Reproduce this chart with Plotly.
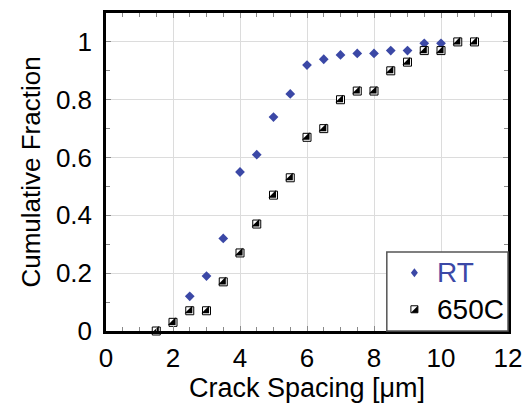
import plotly.graph_objects as go

# Data
rt_x = [2.5, 3.0, 3.5, 4.0, 4.5, 5.0, 5.5, 6.0, 6.5, 7.0, 7.5, 8.0, 8.5, 9.0, 9.5, 10.0]
rt_y = [0.12, 0.19, 0.32, 0.55, 0.61, 0.74, 0.82, 0.92, 0.94, 0.955, 0.96, 0.96, 0.97, 0.97, 0.995, 0.995]
c650_x = [1.5, 2.0, 2.5, 3.0, 3.5, 4.0, 4.5, 5.0, 5.5, 6.0, 6.5, 7.0, 7.5, 8.0, 8.5, 9.0, 9.5, 10.0, 10.5, 11.0]
c650_y = [0.0, 0.03, 0.07, 0.07, 0.17, 0.27, 0.37, 0.47, 0.53, 0.67, 0.70, 0.80, 0.83, 0.83, 0.90, 0.93, 0.97, 0.97, 1.0, 1.0]
x_ticks = [0, 2, 4, 6, 8, 10, 12]
y_ticks = [0, 0.2, 0.4, 0.6, 0.8, 1.0]
y_ticktext = ["0", "0.2", "0.4", "0.6", "0.8", "1"]
legend_names = ["RT", "650C"]

BLUE = "#3b48a6"
FONT = "Liberation Sans, Arial, sans-serif"

fig = go.Figure()
fig.add_trace(go.Scatter(x=rt_x, y=rt_y, mode="markers", name=legend_names[0],
                         marker=dict(symbol="diamond", size=7.5, color=BLUE),
                         showlegend=False, cliponaxis=False))
fig.add_trace(go.Scatter(x=c650_x, y=c650_y, mode="markers", name=legend_names[1],
                         marker=dict(symbol="square", size=8, color="white",
                                     line=dict(color="black", width=1)),
                         showlegend=False, cliponaxis=False))
fig.add_trace(go.Scatter(x=c650_x, y=c650_y, mode="markers", name=legend_names[1],
                         marker=dict(symbol="triangle-se", size=8.5, color="black",
                                     line=dict(width=0)),
                         showlegend=False, cliponaxis=False))

# Custom legend (box, symbols, labels)
x0p, x1p = (391 - 106) / 408, 1.0
y0p, y1p = 0.0, (332 - 252) / 322
fig.add_shape(type="rect", xref="paper", yref="paper", x0=x0p, x1=x1p, y0=y0p, y1=y1p,
              line=dict(color="#555555", width=1.5), fillcolor="white", layer="above")
sym_x = (419 - 106) / 408
rt_yp = (332 - 273) / 322
c_yp = (332 - 310) / 322
fig.add_shape(type="path", xref="paper", yref="paper", xsizemode="pixel", ysizemode="pixel",
              xanchor=sym_x, yanchor=rt_yp, path="M0,4.5 L3.5,0 L0,-4.5 L-3.5,0 Z",
              fillcolor=BLUE, line=dict(width=0), layer="above")
fig.add_shape(type="path", xref="paper", yref="paper", xsizemode="pixel", ysizemode="pixel",
              xanchor=sym_x, yanchor=c_yp, path="M-3.5,-3.5 L3.5,-3.5 L3.5,3.5 L-3.5,3.5 Z",
              fillcolor="white", line=dict(color="black", width=1), layer="above")
fig.add_shape(type="path", xref="paper", yref="paper", xsizemode="pixel", ysizemode="pixel",
              xanchor=sym_x, yanchor=c_yp, path="M-3.5,-3.5 L3.5,-3.5 L3.5,3.5 Z",
              fillcolor="black", line=dict(width=0), layer="above")
lab_x = (442 - 106) / 408
fig.add_annotation(xref="paper", yref="paper", x=lab_x, y=rt_yp, text=legend_names[0],
                   showarrow=False, xanchor="left", yanchor="middle", xshift=-2,
                   font=dict(family=FONT, size=28, color=BLUE))
fig.add_annotation(xref="paper", yref="paper", x=lab_x, y=c_yp, text=legend_names[1],
                   showarrow=False, xanchor="left", yanchor="middle", xshift=-2,
                   font=dict(family=FONT, size=28, color="black"))

axis_common = dict(showline=True, linecolor="black", linewidth=2.5, mirror="allticks",
                   showgrid=True, gridcolor="#dcdcdc", gridwidth=1, zeroline=False,
                   ticks="inside", ticklen=5, tickcolor="#8a8a8a", tickwidth=1,
                   tickfont=dict(family=FONT, size=26, color="black"))
fig.update_xaxes(range=[0, 12], tickvals=x_ticks, ticktext=[str(v) for v in x_ticks],
                 minor=dict(dtick=0.5, ticks="inside", ticklen=4, tickcolor="#8a8a8a", showgrid=False),
                 title=dict(text="Crack Spacing [\u03bcm]", font=dict(family=FONT, size=27, color="black"),
                            standoff=6),
                 ticklabelstandoff=2, **axis_common)
fig.update_yaxes(range=[0, 1.1], tickvals=y_ticks, ticktext=y_ticktext,
                 minor=dict(dtick=0.1, ticks="inside", ticklen=4, tickcolor="#8a8a8a", showgrid=False),
                 title=dict(text="Cumulative Fraction", font=dict(family=FONT, size=26, color="black"),
                            standoff=8),
                 ticklabelstandoff=6, **axis_common)
fig.update_layout(width=532, height=408, margin=dict(l=106, r=18, t=10, b=76),
                  plot_bgcolor="white", paper_bgcolor="white", showlegend=False)
fig.write_html("out.html")
